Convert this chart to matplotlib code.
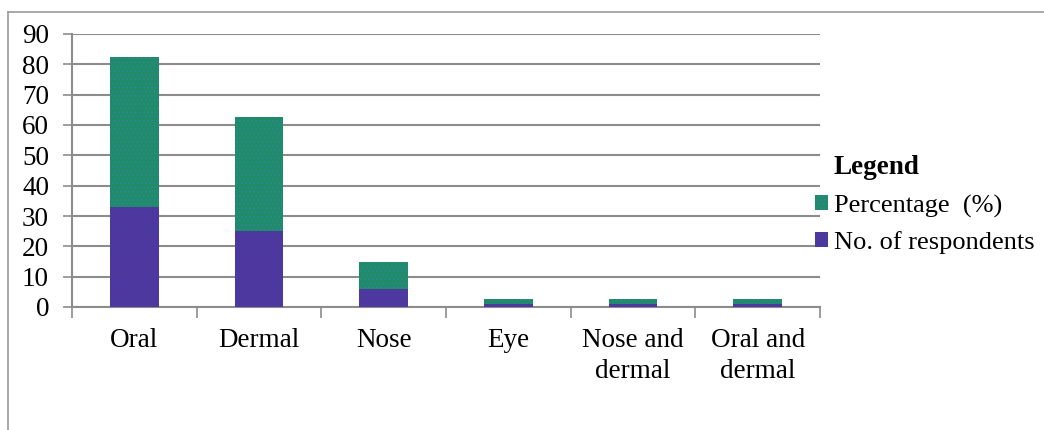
import matplotlib.pyplot as plt
from matplotlib.lines import Line2D
from matplotlib.patches import Patch

categories = ['Oral', 'Dermal', 'Nose', 'Eye', 'Nose and\ndermal', 'Oral and\ndermal']
respondents = [33, 25, 6, 1, 1, 1]
percentage = [82.5, 62.5, 15, 2.5, 2.5, 2.5]

plt.rcParams['font.family'] = ['Liberation Serif', 'DejaVu Serif']
plt.rcParams['hatch.linewidth'] = 0.6

green = '#1E8C68'
purple = '#50379E'
grid_col = '#8C8C8C'
fs = 19.5

fig = plt.figure(figsize=(10.44, 4.30), dpi=100)
ax = fig.add_axes([72/1044, 1 - 307/430, 748/1044, 273/430])

x = range(len(categories))
ax.bar(x, percentage, width=0.39, color=green, edgecolor='#3A7FA0', hatch='....', linewidth=0, zorder=3)
ax.bar(x, respondents, width=0.39, color=purple, edgecolor='#3B3FA8', hatch='....', linewidth=0, zorder=4)

ax.set_xlim(-0.5, len(categories) - 0.5)
ax.set_ylim(0, 90)
ax.set_yticks(range(0, 91, 10))
ax.yaxis.grid(True, color=grid_col, linewidth=1.5, zorder=0)
ax.set_axisbelow(True)

ax.set_xticks([i - 0.5 for i in range(len(categories) + 1)])
ax.set_xticklabels([])
ax.set_xticks(list(x), minor=True)
ax.set_xticklabels(categories, minor=True, fontsize=fs, linespacing=1.35)
ax.tick_params(axis='x', which='minor', length=0, pad=15)
ax.tick_params(axis='x', which='major', length=8, width=1.2, color=grid_col)
ax.tick_params(axis='y', length=6.5, width=1.2, color=grid_col, labelsize=fs, pad=10)

for s in ['top', 'right']:
    ax.spines[s].set_visible(False)
for s in ['left', 'bottom']:
    ax.spines[s].set_color(grid_col)
    ax.spines[s].set_linewidth(1.5)

# outer chart frame
fig.add_artist(Line2D([8/1044, 1], [1 - 12/430, 1 - 12/430], color='#9A9A9A', linewidth=1.2))
fig.add_artist(Line2D([8/1044, 8/1044], [0, 1 - 12/430], color='#9A9A9A', linewidth=1.2))

fig.text(834/1044, 1 - 167/430, 'Legend', fontsize=fs, fontweight='bold', va='center')
handles = [Patch(facecolor=green, edgecolor='#3A7FA0', hatch='....', linewidth=0),
           Patch(facecolor=purple, edgecolor='#3B3FA8', hatch='....', linewidth=0)]
fig.legend(handles, ['Percentage  (%)', 'No. of respondents'], loc='upper left',
           bbox_to_anchor=(804/1044, 1 - 184/430), frameon=False, fontsize=19,
           handlelength=0.5, handleheight=0.5, handletextpad=0.25, labelspacing=0.5,
           borderaxespad=0)

fig.savefig('out.png', dpi=100)
